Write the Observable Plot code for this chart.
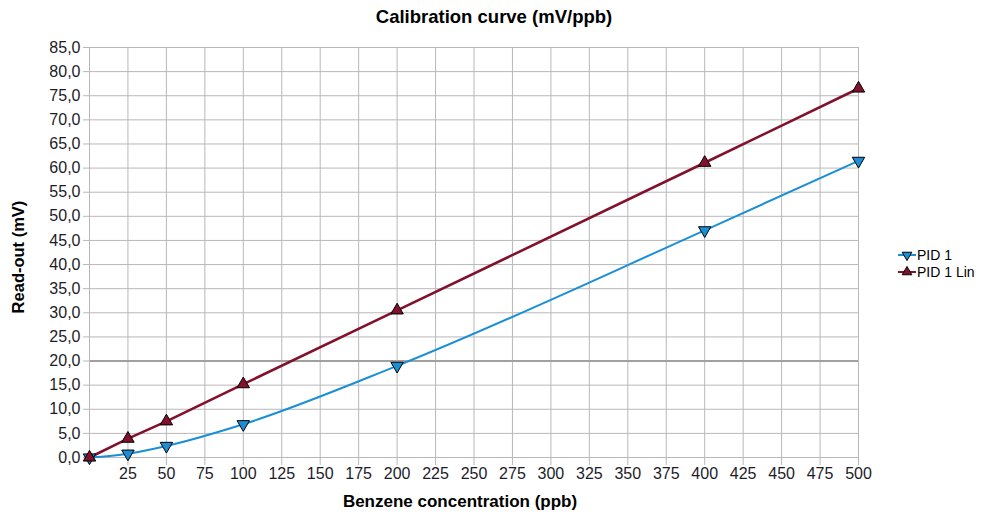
<!DOCTYPE html>
<html>
<head>
<meta charset="utf-8">
<script src="https://cdn.jsdelivr.net/npm/d3@7"></script>
<script src="https://cdn.jsdelivr.net/npm/@observablehq/plot@0.6"></script>
<style>
  body { margin: 0; background: #fff; font-family: "Liberation Sans", Arial, sans-serif; }
  #wrap { position: relative; width: 981px; height: 514px; overflow: hidden; }
  #title { position: absolute; left: 0; top: 6px; width: 988px; text-align: center; font-weight: bold; font-size: 18.5px; color: #000; }
  #chart { position: absolute; left: 0; top: 34px; }
  #xlabel { position: absolute; left: 260px; width: 400px; top: 492px; text-align: center; font-weight: bold; font-size: 17px; color: #000; }
  #ylabel { position: absolute; left: 18px; top: 257px; transform: translate(-50%, -50%) rotate(-90deg); white-space: nowrap; font-weight: bold; font-size: 16.5px; color: #000; }
  #legend { position: absolute; left: 898px; top: 246px; font-size: 14px; color: #000; }
  #legend div { display: flex; align-items: center; height: 17px; }
  #legend svg { margin-right: 1px; }
</style>
</head>
<body>
<div id="wrap">
  <div id="title">Calibration curve (mV/ppb)</div>
  <div id="chart"></div>
  <div id="xlabel">Benzene concentration (ppb)</div>
  <div id="ylabel">Read-out (mV)</div>
  <div id="legend"></div>
</div>
<script>
const concentration = [0, 25, 50, 100, 200, 400, 500];
const pid1 = [0, 0.8, 2.4, 6.9, 19.0, 47.1, 61.5];
const pid1Lin = [0, 3.9, 7.5, 15.2, 30.5, 61.1, 76.5];
const seriesNames = ["PID 1", "PID 1 Lin"];
const seriesColors = ["#1b8fd6", "#82112d"];
const xTicks = [25, 50, 75, 100, 125, 150, 175, 200, 225, 250, 275, 300, 325, 350, 375, 400, 425, 450, 475, 500];
const yTicks = [0, 5, 10, 15, 20, 25, 30, 35, 40, 45, 50, 55, 60, 65, 70, 75, 80, 85];
const highlightY = [20];

const d1 = concentration.map((c, i) => ({x: c, y: pid1[i]}));
const d2 = concentration.map((c, i) => ({x: c, y: pid1Lin[i]}));

const fmt = v => v.toFixed(1).replace(".", ",");

const chart = Plot.plot({
  width: 981,
  height: 480,
  marginLeft: 89,
  marginRight: 123,
  marginTop: 13,
  marginBottom: 57,
  style: {fontFamily: "'Liberation Sans', Arial, sans-serif", fontSize: "16px", color: "#1c1c2a", background: "#fff"},
  x: {domain: [0, 500], ticks: xTicks},
  y: {domain: [0, 85], ticks: yTicks},
  marks: [
    Plot.gridX(xTicks, {stroke: "#b8b8b8", strokeOpacity: 1, strokeWidth: 1}),
    Plot.gridY(yTicks, {stroke: "#b8b8b8", strokeOpacity: 1, strokeWidth: 1}),
    Plot.ruleY(highlightY, {stroke: "#a0a0a0", strokeWidth: 2}),
    Plot.axisX(xTicks, {tickSize: 8, stroke: "#b8b8b8", tickPadding: 2, fontSize: 16, label: null}),
    Plot.axisY(yTicks, {tickSize: 6, stroke: "#b8b8b8", tickPadding: 3, fontSize: 16, tickFormat: fmt, label: null}),
    Plot.ruleX([0], {stroke: "#b8b8b8"}),
    Plot.ruleY([0], {stroke: "#b8b8b8"}),
    Plot.line(d1, {x: "x", y: "y", stroke: seriesColors[0], strokeWidth: 2, curve: "monotone-x"}),
    Plot.line(d2, {x: "x", y: "y", stroke: seriesColors[1], strokeWidth: 2.6}),
    Plot.dot(d1, {x: "x", y: "y", symbol: "triangle", r: 4.6, rotate: 180, fill: seriesColors[0], stroke: "#000", strokeWidth: 1}),
    Plot.dot(d2, {x: "x", y: "y", symbol: "triangle", r: 4.6, fill: seriesColors[1], stroke: "#000", strokeWidth: 1})
  ]
});
document.getElementById("chart").appendChild(chart);

const legend = document.getElementById("legend");
seriesNames.forEach((name, i) => {
  const row = document.createElement("div");
  const rot = i === 0 ? 180 : 0;
  row.innerHTML = `<svg width="18" height="12"><line x1="0" x2="18" y1="6" y2="6" stroke="${seriesColors[i]}" stroke-width="2"/>` +
    `<path d="${d3.symbol(d3.symbolTriangle, 40)()}" transform="translate(9,6) rotate(${rot})" fill="${seriesColors[i]}" stroke="#000" stroke-width="1"/></svg><span>${name}</span>`;
  legend.appendChild(row);
});
</script>
</body>
</html>
